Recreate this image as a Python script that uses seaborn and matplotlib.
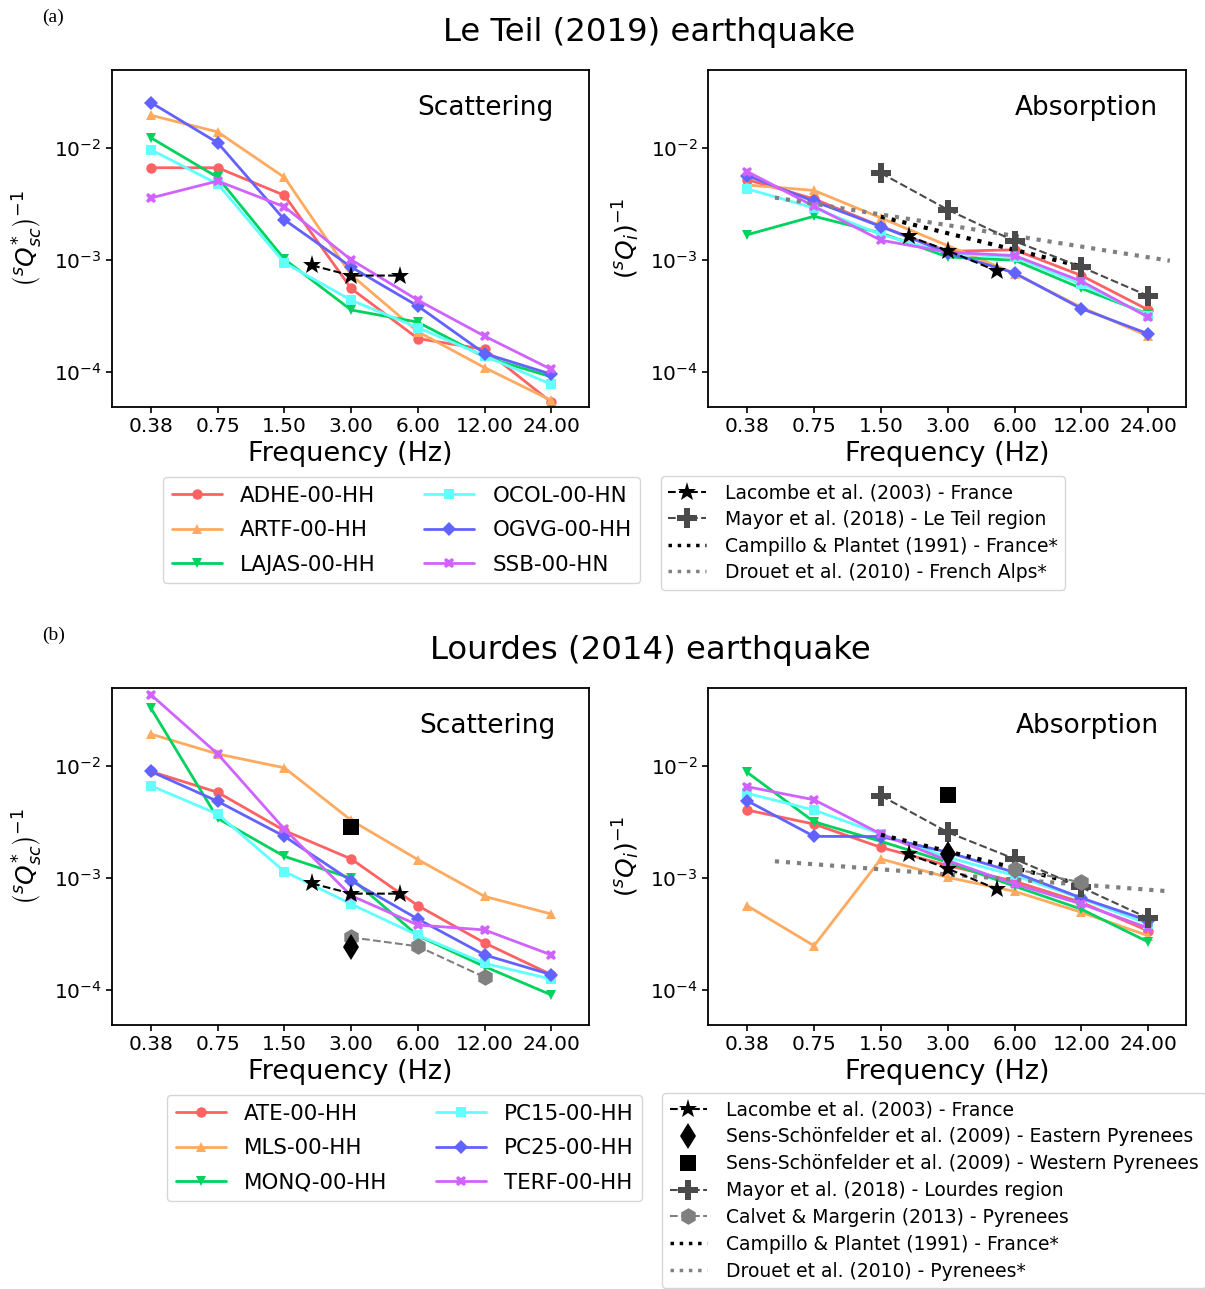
import numpy as np
import pandas as pd
import matplotlib
matplotlib.use("Agg")
import matplotlib.pyplot as plt
from matplotlib.lines import Line2D
from matplotlib.ticker import FixedLocator, FixedFormatter, NullLocator, LogFormatterMathtext
import seaborn as sns

# ---------------------------------------------------------------- data
freqs = [0.375, 0.75, 1.5, 3.0, 6.0, 12.0, 24.0]
freq_labels = ["0.38", "0.75", "1.50", "3.00", "6.00", "12.00", "24.00"]

# Le Teil (2019) stations
teil_stations = ["ADHE-00-HH", "ARTF-00-HH", "LAJAS-00-HH", "OCOL-00-HN", "OGVG-00-HH", "SSB-00-HN"]
teil_sc_adhe = [6.7e-3, 6.7e-3, 3.8e-3, 5.6e-4, 2.0e-4, 1.6e-4, 5.4e-5]
teil_sc_artf = [1.97e-2, 1.4e-2, 5.5e-3, 7.4e-4, 2.3e-4, 1.1e-4, 5.6e-5]
teil_sc_lajas = [1.24e-2, 5.5e-3, 1.02e-3, 3.6e-4, 2.8e-4, 1.37e-4, 9.1e-5]
teil_sc_ocol = [9.7e-3, 4.8e-3, 9.5e-4, 4.4e-4, 2.5e-4, 1.4e-4, 7.8e-5]
teil_sc_ogvg = [2.56e-2, 1.12e-2, 2.3e-3, 8.7e-4, 3.9e-4, 1.47e-4, 9.6e-5]
teil_sc_ssb = [3.6e-3, 5.1e-3, 3.0e-3, 1.01e-3, 4.4e-4, 2.1e-4, 1.06e-4]

teil_i_adhe = [5.25e-3, 3.53e-3, 2.01e-3, 1.2e-3, 1.24e-3, 7.3e-4, 3.6e-4]
teil_i_artf = [4.7e-3, 4.2e-3, 2.39e-3, 1.35e-3, 7.6e-4, 3.8e-4, 2.1e-4]
teil_i_lajas = [1.69e-3, 2.47e-3, 1.75e-3, 1.07e-3, 1.0e-3, 5.6e-4, 3.3e-4]
teil_i_ocol = [4.34e-3, 2.93e-3, 1.7e-3, 1.15e-3, 1.07e-3, 6.1e-4, 3.2e-4]
teil_i_ogvg = [5.7e-3, 3.36e-3, 2.0e-3, 1.17e-3, 7.7e-4, 3.7e-4, 2.2e-4]
teil_i_ssb = [6.2e-3, 3.03e-3, 1.51e-3, 1.18e-3, 1.1e-3, 6.5e-4, 3.1e-4]

# Lourdes (2014) stations
lourdes_stations = ["ATE-00-HH", "MLS-00-HH", "MONQ-00-HH", "PC15-00-HH", "PC25-00-HH", "TERF-00-HH"]
lou_sc_ate = [9.0e-3, 5.86e-3, 2.67e-3, 1.49e-3, 5.7e-4, 2.65e-4, 1.38e-4]
lou_sc_mls = [1.94e-2, 1.29e-2, 9.7e-3, 3.3e-3, 1.47e-3, 6.9e-4, 4.8e-4]
lou_sc_monq = [3.3e-2, 3.43e-3, 1.57e-3, 1.0e-3, 3.07e-4, 1.63e-4, 9.1e-5]
lou_sc_pc15 = [6.7e-3, 3.75e-3, 1.15e-3, 5.9e-4, 3.1e-4, 1.74e-4, 1.26e-4]
lou_sc_pc25 = [9.0e-3, 4.87e-3, 2.37e-3, 9.5e-4, 4.33e-4, 2.07e-4, 1.38e-4]
lou_sc_terf = [4.36e-2, 1.29e-2, 2.75e-3, 7.0e-4, 3.83e-4, 3.46e-4, 2.07e-4]

lou_i_ate = [4.07e-3, 3.05e-3, 1.89e-3, 1.3e-3, 9.4e-4, 6.1e-4, 3.4e-4]
lou_i_mls = [5.7e-4, 2.5e-4, 1.49e-3, 1.02e-3, 7.65e-4, 4.97e-4, 3.07e-4]
lou_i_monq = [8.84e-3, 3.2e-3, 2.14e-3, 1.39e-3, 8.5e-4, 5.3e-4, 2.7e-4]
lou_i_pc15 = [5.74e-3, 4.07e-3, 2.49e-3, 1.54e-3, 1.06e-3, 6.6e-4, 3.9e-4]
lou_i_pc25 = [4.93e-3, 2.37e-3, 2.36e-3, 1.71e-3, 1.13e-3, 6.67e-4, 4.19e-4]
lou_i_terf = [6.58e-3, 5.03e-3, 2.49e-3, 1.44e-3, 8.9e-4, 5.9e-4, 3.6e-4]

# Published reference values
lacombe_f = [2.0, 3.0, 5.0]
lacombe_sc = [9.0e-4, 7.3e-4, 7.3e-4]
lacombe_i = [1.64e-3, 1.22e-3, 8.0e-4]

mayor_f = [1.5, 3.0, 6.0, 12.0, 24.0]
mayor_teil_i = [6.0e-3, 2.83e-3, 1.48e-3, 8.7e-4, 4.8e-4]
mayor_lourdes_i = [5.47e-3, 2.58e-3, 1.49e-3, 8.3e-4, 4.4e-4]

campillo_f = [1.5, 12.0]
campillo_i = [2.45e-3, 8.8e-4]

drouet_f = [0.5, 30.0]
drouet_alps_i = [3.63e-3, 9.9e-4]
drouet_pyr_i = [1.42e-3, 7.65e-4]

sens_f = [3.0]
sens_east_sc = [2.42e-4]
sens_east_i = [1.65e-3]
sens_west_sc = [2.89e-3]
sens_west_i = [5.58e-3]

calvet_sc_f = [3.0, 6.0, 12.0]
calvet_sc = [2.97e-4, 2.47e-4, 1.31e-4]
calvet_i_f = [6.0, 12.0]
calvet_i = [1.21e-3, 9.2e-4]

# ---------------------------------------------------------------- style
sns.set_style("ticks")
plt.rcParams.update({
    "font.family": ["DejaVu Sans"],
    "text.color": "black",
    "axes.labelcolor": "black",
    "axes.edgecolor": "black",
    "axes.linewidth": 1.3,
    "xtick.color": "black",
    "ytick.color": "black",
    "xtick.major.size": 4,
    "ytick.major.size": 4,
    "xtick.major.width": 1.2,
    "ytick.major.width": 1.2,
    "mathtext.fontset": "dejavusans",
})

station_colors = ["#ff6262", "#ffaa5e", "#00d25e", "#62ffff", "#6262ff", "#d062ff"]
station_markers = ["o", "^", "v", "s", "D", "X"]
MAYOR_C = "#4a4a4a"
GREY_C = "#808080"

fig = plt.figure(figsize=(12.05, 12.89), dpi=100)
ax_tl = fig.add_axes([0.0929, 0.6843, 0.3959, 0.2614])
ax_tr = fig.add_axes([0.5876, 0.6843, 0.3967, 0.2614])
ax_bl = fig.add_axes([0.0929, 0.2048, 0.3959, 0.2614])
ax_br = fig.add_axes([0.5876, 0.2048, 0.3967, 0.2614])


def station_frame(names, series):
    rows = []
    for name, vals in zip(names, series):
        for f, v in zip(freqs, vals):
            rows.append({"freq": f, "q": v, "station": name})
    return pd.DataFrame(rows)


def draw_stations(ax, names, series):
    df = station_frame(names, series)
    sns.lineplot(data=df, x="freq", y="q", hue="station", style="station",
                 hue_order=names, style_order=names,
                 palette=dict(zip(names, station_colors)),
                 markers=dict(zip(names, station_markers)),
                 dashes=False, linewidth=2.0, markersize=7.5,
                 markeredgewidth=0, legend=False, ax=ax, zorder=2)


def ref_line(ax, f, v, **kw):
    sns.lineplot(x=f, y=v, ax=ax, legend=False, zorder=3, **kw)


def format_axes(ax, ylabel, panel_text, text_x):
    ax.set_xscale("log")
    ax.set_yscale("log")
    ax.set_xlim(0.25, 35.5)
    ax.set_ylim(4.9e-5, 5.0e-2)
    ax.xaxis.set_major_locator(FixedLocator(freqs))
    ax.xaxis.set_major_formatter(FixedFormatter(freq_labels))
    ax.xaxis.set_minor_locator(NullLocator())
    ax.yaxis.set_major_locator(FixedLocator([1e-4, 1e-3, 1e-2]))
    ax.yaxis.set_major_formatter(LogFormatterMathtext())
    ax.yaxis.set_minor_locator(NullLocator())
    ax.tick_params(axis="both", labelsize=14.5, direction="out")
    ax.set_xlabel("Frequency (Hz)", fontsize=19.5, labelpad=3)
    ax.set_ylabel(ylabel, fontsize=18, labelpad=6)
    ax.text(text_x, 0.887, panel_text, transform=ax.transAxes,
            ha="right", va="center", fontsize=19)
    for s in ax.spines.values():
        s.set_visible(True)
        s.set_color("black")


ylab_sc = r"$\left({}^{s}Q^{*}_{sc}\right)^{-1}$"
ylab_i = r"$\left({}^{s}Q_{i}\right)^{-1}$"

# ---------------------------------------------------------------- (a) Le Teil
draw_stations(ax_tl, teil_stations,
              [teil_sc_adhe, teil_sc_artf, teil_sc_lajas, teil_sc_ocol, teil_sc_ogvg, teil_sc_ssb])
ref_line(ax_tl, lacombe_f, lacombe_sc, color="black", linestyle="--", linewidth=1.5,
         marker="*", markersize=14, markeredgewidth=0)

draw_stations(ax_tr, teil_stations,
              [teil_i_adhe, teil_i_artf, teil_i_lajas, teil_i_ocol, teil_i_ogvg, teil_i_ssb])
ref_line(ax_tr, campillo_f, campillo_i, color="black", linestyle=":", linewidth=3)
ref_line(ax_tr, drouet_f, drouet_alps_i, color=GREY_C, linestyle=":", linewidth=3)
ref_line(ax_tr, lacombe_f, lacombe_i, color="black", linestyle="--", linewidth=1.5,
         marker="*", markersize=14, markeredgewidth=0)
ref_line(ax_tr, mayor_f, mayor_teil_i, color=MAYOR_C, linestyle="--", linewidth=1.5,
         marker="P", markersize=15, markeredgewidth=0)

# ---------------------------------------------------------------- (b) Lourdes
draw_stations(ax_bl, lourdes_stations,
              [lou_sc_ate, lou_sc_mls, lou_sc_monq, lou_sc_pc15, lou_sc_pc25, lou_sc_terf])
ref_line(ax_bl, lacombe_f, lacombe_sc, color="black", linestyle="--", linewidth=1.5,
         marker="*", markersize=14, markeredgewidth=0)
ref_line(ax_bl, calvet_sc_f, calvet_sc, color=GREY_C, linestyle="--", linewidth=1.5,
         marker="h", markersize=12, markeredgewidth=0)
ref_line(ax_bl, sens_f, sens_east_sc, color="black", linestyle="none",
         marker="d", markersize=13, markeredgewidth=0)
ref_line(ax_bl, sens_f, sens_west_sc, color="black", linestyle="none",
         marker="s", markersize=11, markeredgewidth=0)

draw_stations(ax_br, lourdes_stations,
              [lou_i_ate, lou_i_mls, lou_i_monq, lou_i_pc15, lou_i_pc25, lou_i_terf])
ref_line(ax_br, campillo_f, campillo_i, color="black", linestyle=":", linewidth=3)
ref_line(ax_br, drouet_f, drouet_pyr_i, color=GREY_C, linestyle=":", linewidth=3)
ref_line(ax_br, lacombe_f, lacombe_i, color="black", linestyle="--", linewidth=1.5,
         marker="*", markersize=14, markeredgewidth=0)
ref_line(ax_br, mayor_f, mayor_lourdes_i, color=MAYOR_C, linestyle="--", linewidth=1.5,
         marker="P", markersize=15, markeredgewidth=0)
ref_line(ax_br, calvet_i_f, calvet_i, color=GREY_C, linestyle="--", linewidth=1.5,
         marker="h", markersize=12, markeredgewidth=0)
ref_line(ax_br, sens_f, sens_east_i, color="black", linestyle="none",
         marker="d", markersize=13, markeredgewidth=0)
ref_line(ax_br, sens_f, sens_west_i, color="black", linestyle="none",
         marker="s", markersize=11, markeredgewidth=0)

format_axes(ax_tl, ylab_sc, "Scattering", 0.925)
format_axes(ax_tr, ylab_i, "Absorption", 0.941)
format_axes(ax_bl, ylab_sc, "Scattering", 0.929)
format_axes(ax_br, ylab_i, "Absorption", 0.944)

# ---------------------------------------------------------------- legends
def station_handles(names):
    return [Line2D([], [], color=c, marker=m, linewidth=2.0, markersize=7.5,
                   markeredgewidth=0, label=n)
            for n, c, m in zip(names, station_colors, station_markers)]


def ref_handle(label, **kw):
    return Line2D([], [], label=label, **kw)


lac_h = lambda: ref_handle("Lacombe et al. (2003) - France", color="black", linestyle="--",
                           linewidth=1.5, marker="*", markersize=14, markeredgewidth=0)
camp_h = lambda: ref_handle("Campillo & Plantet (1991) - France*", color="black",
                            linestyle=":", linewidth=2.5)

leg_kw = dict(borderaxespad=0, frameon=True, fancybox=True, framealpha=0.8,
              edgecolor="#cccccc")

station_leg_kw = dict(ncol=2, fontsize=15.4, loc="upper left",
                      bbox_transform=fig.transFigure, handlelength=2.35,
                      handletextpad=0.85, columnspacing=2.25, labelspacing=0.68)

ax_tl.legend(handles=station_handles(teil_stations), bbox_to_anchor=(0.1353, 0.6299),
             **station_leg_kw, **leg_kw)

teil_refs = [
    lac_h(),
    ref_handle("Mayor et al. (2018) - Le Teil region", color=MAYOR_C, linestyle="--",
               linewidth=1.5, marker="P", markersize=15, markeredgewidth=0),
    camp_h(),
    ref_handle("Drouet et al. (2010) - French Alps*", color=GREY_C, linestyle=":", linewidth=2.5),
]
ax_tr.legend(handles=teil_refs, fontsize=13.5, loc="upper left",
             bbox_to_anchor=(0.5485, 0.6307), bbox_transform=fig.transFigure,
             handlelength=2.0, handletextpad=1.0, labelspacing=0.4, **leg_kw)

ax_bl.legend(handles=station_handles(lourdes_stations), bbox_to_anchor=(0.1386, 0.1505),
             **station_leg_kw, **leg_kw)

lourdes_refs = [
    lac_h(),
    ref_handle("Sens-Schönfelder et al. (2009) - Eastern Pyrenees", color="black",
               linestyle="none", marker="d", markersize=13, markeredgewidth=0),
    ref_handle("Sens-Schönfelder et al. (2009) - Western Pyrenees", color="black",
               linestyle="none", marker="s", markersize=11, markeredgewidth=0),
    ref_handle("Mayor et al. (2018) - Lourdes region", color=MAYOR_C, linestyle="--",
               linewidth=1.5, marker="P", markersize=15, markeredgewidth=0),
    ref_handle("Calvet & Margerin (2013) - Pyrenees", color=GREY_C, linestyle="--",
               linewidth=1.5, marker="h", markersize=12, markeredgewidth=0),
    camp_h(),
    ref_handle("Drouet et al. (2010) - Pyrenees*", color=GREY_C, linestyle=":", linewidth=2.5),
]
ax_br.legend(handles=lourdes_refs, fontsize=13.5, loc="upper left",
             bbox_to_anchor=(0.5494, 0.1521), bbox_transform=fig.transFigure,
             handlelength=2.0, handletextpad=1.0, labelspacing=0.42, **leg_kw)

# ---------------------------------------------------------------- titles
fig.text(0.5386, 1 - 41 / 1289, "Le Teil (2019) earthquake", ha="center", va="baseline",
         fontsize=23.3)
fig.text(0.5394, 1 - 659 / 1289, "Lourdes (2014) earthquake", ha="center", va="baseline",
         fontsize=23.3)
fig.text(42 / 1205, 1 - 22 / 1289, "(a)", ha="left", va="baseline", fontsize=14,
         family=["Liberation Serif", "DejaVu Serif"])
fig.text(42 / 1205, 1 - 640 / 1289, "(b)", ha="left", va="baseline", fontsize=14,
         family=["Liberation Serif", "DejaVu Serif"])

fig.savefig("out.png", dpi=100, facecolor="white")
